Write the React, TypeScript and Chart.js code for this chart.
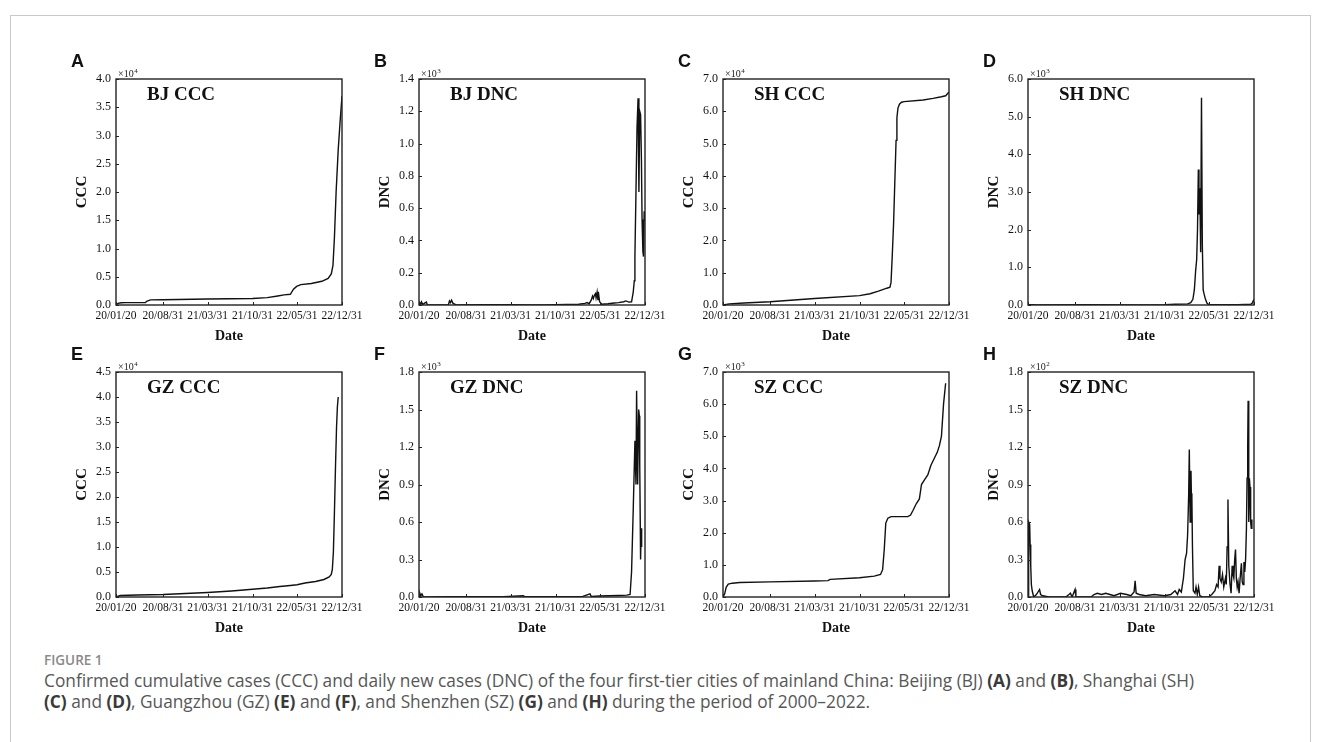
import React, { useEffect, useRef } from 'react';
import { Chart, registerables } from 'chart.js';

Chart.register(...registerables);

// ---------------- data ----------------
// x values are days since 2020/01/20
const X_TICK_DAYS = [0, 224, 436, 650, 862, 1076];
const X_TICK_LABELS = ['20/01/20', '20/08/31', '21/03/31', '21/10/31', '22/05/31', '22/12/31'];

const BJ_CCC: [number, number][] = [
  [0, 0], [10, 300], [25, 400], [45, 420], [140, 430], [148, 700], [165, 900], [224, 930],
  [436, 1050], [650, 1150], [720, 1300], [770, 1600], [800, 1800], [830, 1900], [845, 2800],
  [860, 3300], [880, 3600], [930, 3800], [980, 4200], [1010, 4700], [1025, 5500], [1033, 7000],
  [1040, 12000], [1048, 20000], [1058, 27500], [1068, 33000], [1076, 37000],
];

const BJ_DNC: [number, number][] = [
  [0, 0], [3, 15], [8, 5], [12, 20], [18, 3], [25, 10], [35, 18], [40, 0], [60, 0], [140, 0],
  [145, 25], [150, 15], [155, 30], [162, 10], [175, 2], [200, 0], [300, 2], [436, 2], [520, 0],
  [600, 0], [700, 3], [760, 5], [790, 10], [800, 15], [810, 8], [820, 30], [826, 55], [830, 40],
  [835, 60], [840, 70], [843, 45], [848, 80], [852, 30], [856, 60], [860, 20], [870, 5], [900, 8],
  [930, 12], [950, 15], [975, 20], [985, 25], [1000, 18], [1012, 20], [1020, 80], [1025, 150],
  [1028, 300], [1033, 700], [1038, 1100], [1043, 1280], [1047, 700], [1051, 1200], [1055, 1180],
  [1059, 900], [1062, 530], [1066, 330], [1069, 300], [1072, 580], [1076, 520],
];

const SH_CCC: [number, number][] = [
  [0, 0], [30, 350], [100, 600], [224, 1000], [436, 2000], [650, 2900], [700, 3500], [740, 4300],
  [780, 5200], [795, 5500], [800, 7000], [805, 14000], [812, 25000], [818, 38000], [824, 51000],
  [828, 58000], [833, 61000], [840, 62200], [850, 62800], [862, 63000], [953, 63500], [1000, 64000],
  [1040, 64500], [1060, 64800], [1076, 66000],
];

const SH_DNC: [number, number][] = [
  [0, 0], [5, 10], [20, 5], [40, 0], [300, 5], [500, 3], [650, 10], [700, 20], [760, 30], [775, 60],
  [785, 150], [792, 400], [798, 900], [803, 1200], [807, 2000], [811, 3600], [814, 2400], [817, 3100],
  [819, 2700], [822, 1400], [826, 5500], [830, 1600], [834, 400], [838, 300], [845, 150], [852, 50],
  [860, 10], [900, 5], [1000, 10], [1060, 20], [1068, 50], [1073, 120], [1076, 80],
];

const GZ_CCC: [number, number][] = [
  [0, 0], [20, 300], [100, 400], [224, 500], [436, 900], [550, 1200], [650, 1550], [720, 1800],
  [780, 2100], [830, 2300], [862, 2450], [900, 2800], [950, 3100], [990, 3500], [1015, 4000],
  [1025, 4500], [1030, 5500], [1035, 9000], [1040, 17000], [1045, 26000], [1050, 34000],
  [1054, 38000], [1058, 40000],
];

const GZ_DNC: [number, number][] = [
  [0, 0], [4, 30], [8, 10], [14, 25], [20, 3], [40, 0], [150, 2], [300, 3], [400, 2], [497, 10],
  [505, 2], [600, 3], [700, 2], [780, 5], [814, 25], [820, 5], [860, 8], [900, 10], [950, 12],
  [990, 15], [1005, 20], [1012, 200], [1020, 700], [1028, 1250], [1033, 900], [1036, 1650],
  [1041, 900], [1046, 1500], [1049, 1450], [1051, 1050], [1055, 300], [1058, 550], [1060, 400],
];

const SZ_CCC: [number, number][] = [
  [0, 0], [8, 100], [15, 300], [25, 400], [45, 430], [80, 450], [224, 470], [436, 500], [500, 510],
  [510, 550], [650, 600], [720, 650], [750, 700], [760, 850], [768, 1500], [775, 2300], [785, 2450],
  [800, 2500], [880, 2500], [893, 2550], [905, 2700], [920, 2900], [935, 3050], [945, 3500],
  [960, 3650], [975, 3800], [990, 4100], [1005, 4300], [1020, 4500], [1030, 4700], [1040, 5000],
  [1050, 6000], [1060, 6650],
];

const SZ_DNC: [number, number][] = [
  [0, 0], [2, 20], [4, 60], [8, 58], [10, 42], [13, 25], [16, 10], [20, 5], [27, 0], [40, 2], [55, 6],
  [60, 2], [70, 1], [100, 0], [180, 0], [195, 2], [202, 3], [210, 0], [224, 6], [228, 0], [300, 0],
  [314, 2], [330, 3], [350, 2], [370, 3], [390, 2], [410, 1], [440, 3], [470, 2], [490, 1], [505, 4],
  [510, 13], [515, 3], [530, 2], [560, 1], [600, 2], [650, 1], [680, 2], [700, 5], [712, 2], [720, 6],
  [730, 4], [740, 15], [748, 30], [755, 35], [760, 50], [765, 82], [768, 118], [772, 60], [776, 101],
  [778, 80], [780, 83], [783, 40], [787, 5], [795, 3], [800, 8], [806, 2], [812, 8], [818, 1], [830, 0],
  [860, 0], [875, 2], [890, 5], [898, 10], [905, 8], [910, 25], [914, 15], [920, 12], [926, 18],
  [932, 8], [940, 15], [944, 10], [948, 40], [952, 78], [956, 25], [962, 10], [967, 3], [972, 25],
  [976, 18], [980, 15], [984, 30], [988, 38], [992, 15], [996, 8], [1000, 12], [1005, 3], [1010, 15],
  [1016, 27], [1020, 12], [1024, 10], [1028, 28], [1032, 20], [1036, 30], [1040, 55], [1043, 95],
  [1046, 120], [1048, 157], [1051, 60], [1054, 95], [1057, 88], [1060, 60], [1063, 55], [1066, 62],
];

const SERIES = [BJ_CCC, BJ_DNC, SH_CCC, SH_DNC, GZ_CCC, GZ_DNC, SZ_CCC, SZ_DNC];
const PANEL_LETTERS = ['A', 'B', 'C', 'D', 'E', 'F', 'G', 'H'];
const PANEL_TITLES = ['BJ CCC', 'BJ DNC', 'SH CCC', 'SH DNC', 'GZ CCC', 'GZ DNC', 'SZ CCC', 'SZ DNC'];
const Y_TITLES = ['CCC', 'DNC', 'CCC', 'DNC', 'CCC', 'DNC', 'CCC', 'DNC'];
const Y_MAX = [40000, 1400, 70000, 6000, 45000, 1800, 7000, 180];
const Y_STEP = [5000, 200, 10000, 1000, 5000, 300, 1000, 30];
const Y_EXP = [4, 3, 4, 3, 4, 3, 3, 2];

// ---------------- layout ----------------
const COL_LEFT = [116, 419, 723, 1028];
const ROW_TOP = [79, 372];
const ROW_H = [226, 225];
const PLOT_W = 226;
const PAD_L = 60;
const PAD_T = 30;
const PAD_R = 25;
const PAD_B = 45;
const SERIF = '"Liberation Serif", "Times New Roman", serif';

const decorPlugin = {
  id: 'decor',
  afterDraw(chart: any, _args: any, opts: any) {
    const { ctx, chartArea: ca, scales } = chart;
    ctx.save();
    ctx.strokeStyle = '#222';
    ctx.lineWidth = 1.4;
    ctx.strokeRect(ca.left, ca.top, ca.right - ca.left, ca.bottom - ca.top);
    ctx.lineWidth = 1;
    ctx.beginPath();
    for (const t of scales.x.ticks) {
      const px = Math.round(scales.x.getPixelForValue(t.value)) + 0.5;
      ctx.moveTo(px, ca.bottom);
      ctx.lineTo(px, ca.bottom - 3);
    }
    for (const t of scales.y.ticks) {
      const py = Math.round(scales.y.getPixelForValue(t.value)) + 0.5;
      ctx.moveTo(ca.left, py);
      ctx.lineTo(ca.left + 3, py);
    }
    ctx.stroke();

    ctx.fillStyle = '#111';
    ctx.textAlign = 'left';
    ctx.textBaseline = 'middle';
    ctx.font = `bold 19px ${SERIF}`;
    ctx.fillText(opts.title, ca.left + 31, ca.top + 16);

    ctx.font = 'bold 18px "Liberation Sans", Arial, sans-serif';
    ctx.fillText(opts.letter, ca.left - 45, ca.top - 17);

    ctx.textBaseline = 'alphabetic';
    ctx.fillStyle = '#222';
    ctx.font = `10px ${SERIF}`;
    const base = '\u00d710';
    ctx.fillText(base, ca.left + 2, ca.top - 2);
    const w = ctx.measureText(base).width;
    ctx.font = `7px ${SERIF}`;
    ctx.fillText(String(opts.exp), ca.left + 2 + w + 0.5, ca.top - 6);
    ctx.restore();
  },
};

function Panel({ i }: { i: number }) {
  const ref = useRef<HTMLCanvasElement>(null);
  const col = i % 4;
  const row = Math.floor(i / 4);
  const plotH = ROW_H[row];
  const width = PAD_L + PLOT_W + PAD_R;
  const height = PAD_T + plotH + PAD_B;

  useEffect(() => {
    const exp = Y_EXP[i];
    const chart = new Chart(ref.current as HTMLCanvasElement, {
      type: 'line',
      data: {
        datasets: [
          {
            data: SERIES[i].map(([x, y]) => ({ x, y })),
            borderColor: '#111',
            borderWidth: 1.4,
            pointRadius: 0,
            tension: 0,
            fill: false,
          },
        ],
      },
      options: {
        animation: false,
        responsive: false,
        events: [],
        layout: { padding: { top: PAD_T, right: PAD_R, left: 0, bottom: 0 } },
        plugins: {
          legend: { display: false },
          tooltip: { enabled: false },
          decor: { title: PANEL_TITLES[i], letter: PANEL_LETTERS[i], exp },
        } as any,
        scales: {
          x: {
            type: 'linear',
            min: 0,
            max: X_TICK_DAYS[X_TICK_DAYS.length - 1],
            afterFit: (s: any) => {
              s.height = PAD_B;
            },
            afterBuildTicks: (s: any) => {
              s.ticks = X_TICK_DAYS.map((v) => ({ value: v }));
            },
            grid: { display: false, drawTicks: false },
            border: { display: false },
            ticks: {
              autoSkip: false,
              maxRotation: 0,
              padding: 4,
              color: '#111',
              font: { family: SERIF, size: 11.5 },
              callback: (v: any) => {
                const k = X_TICK_DAYS.indexOf(Number(v));
                return k >= 0 ? X_TICK_LABELS[k] : '';
              },
            },
            title: {
              display: true,
              text: 'Date',
              color: '#111',
              font: { family: SERIF, size: 14, weight: 'bold' },
              padding: { top: 0, bottom: 5.6 },
            },
          },
          y: {
            min: 0,
            max: Y_MAX[i],
            afterFit: (s: any) => {
              s.width = PAD_L;
            },
            grid: { display: false, drawTicks: false },
            border: { display: false },
            ticks: {
              stepSize: Y_STEP[i],
              padding: 5,
              color: '#111',
              font: { family: SERIF, size: 12 },
              callback: (v: any) => (Number(v) / Math.pow(10, exp)).toFixed(1),
            },
            title: {
              display: true,
              text: Y_TITLES[i],
              color: '#111',
              font: { family: SERIF, size: 15, weight: 'bold' },
              padding: { top: 17, bottom: 0 },
            },
          },
        },
      } as any,
      plugins: [decorPlugin as any],
    });
    return () => chart.destroy();
  }, [i]);

  return (
    <canvas
      ref={ref}
      width={width}
      height={height}
      style={{
        position: 'absolute',
        left: COL_LEFT[col] - PAD_L,
        top: ROW_TOP[row] - PAD_T,
        width,
        height,
      }}
    />
  );
}

const B = ({ children }: { children: React.ReactNode }) => (
  <b style={{ color: '#3a3a3a', fontWeight: 700 }}>{children}</b>
);

export default function App() {
  return (
    <div
      style={{
        position: 'absolute',
        left: 0,
        top: 0,
        width: 1322,
        height: 742,
        overflow: 'hidden',
        background: '#fff',
      }}
    >
      <div
        style={{
          position: 'absolute',
          left: 10,
          top: 15,
          width: 1301,
          height: 800,
          border: '1px solid #c9c9c9',
          boxSizing: 'border-box',
        }}
      />
      {SERIES.map((_, i) => (
        <Panel key={i} i={i} />
      ))}
      <div
        style={{
          position: 'absolute',
          left: 44,
          top: 651,
          font: '600 13.5px "Open Sans", sans-serif',
          color: '#8a8a8a',
          whiteSpace: 'nowrap',
        }}
      >
        FIGURE 1
      </div>
      <div
        style={{
          position: 'absolute',
          left: 44,
          top: 670,
          font: '17.3px/21px "Open Sans", sans-serif',
          color: '#575757',
          whiteSpace: 'nowrap',
        }}
      >
        Confirmed cumulative cases (CCC) and daily new cases (DNC) of the four first-tier cities of mainland
        China: Beijing (BJ) <B>(A)</B> and <B>(B)</B>, Shanghai (SH)
        <br />
        <B>(C)</B> and <B>(D)</B>, Guangzhou (GZ) <B>(E)</B> and <B>(F)</B>, and Shenzhen (SZ) <B>(G)</B> and{' '}
        <B>(H)</B> during the period of 2000–2022.
      </div>
    </div>
  );
}
